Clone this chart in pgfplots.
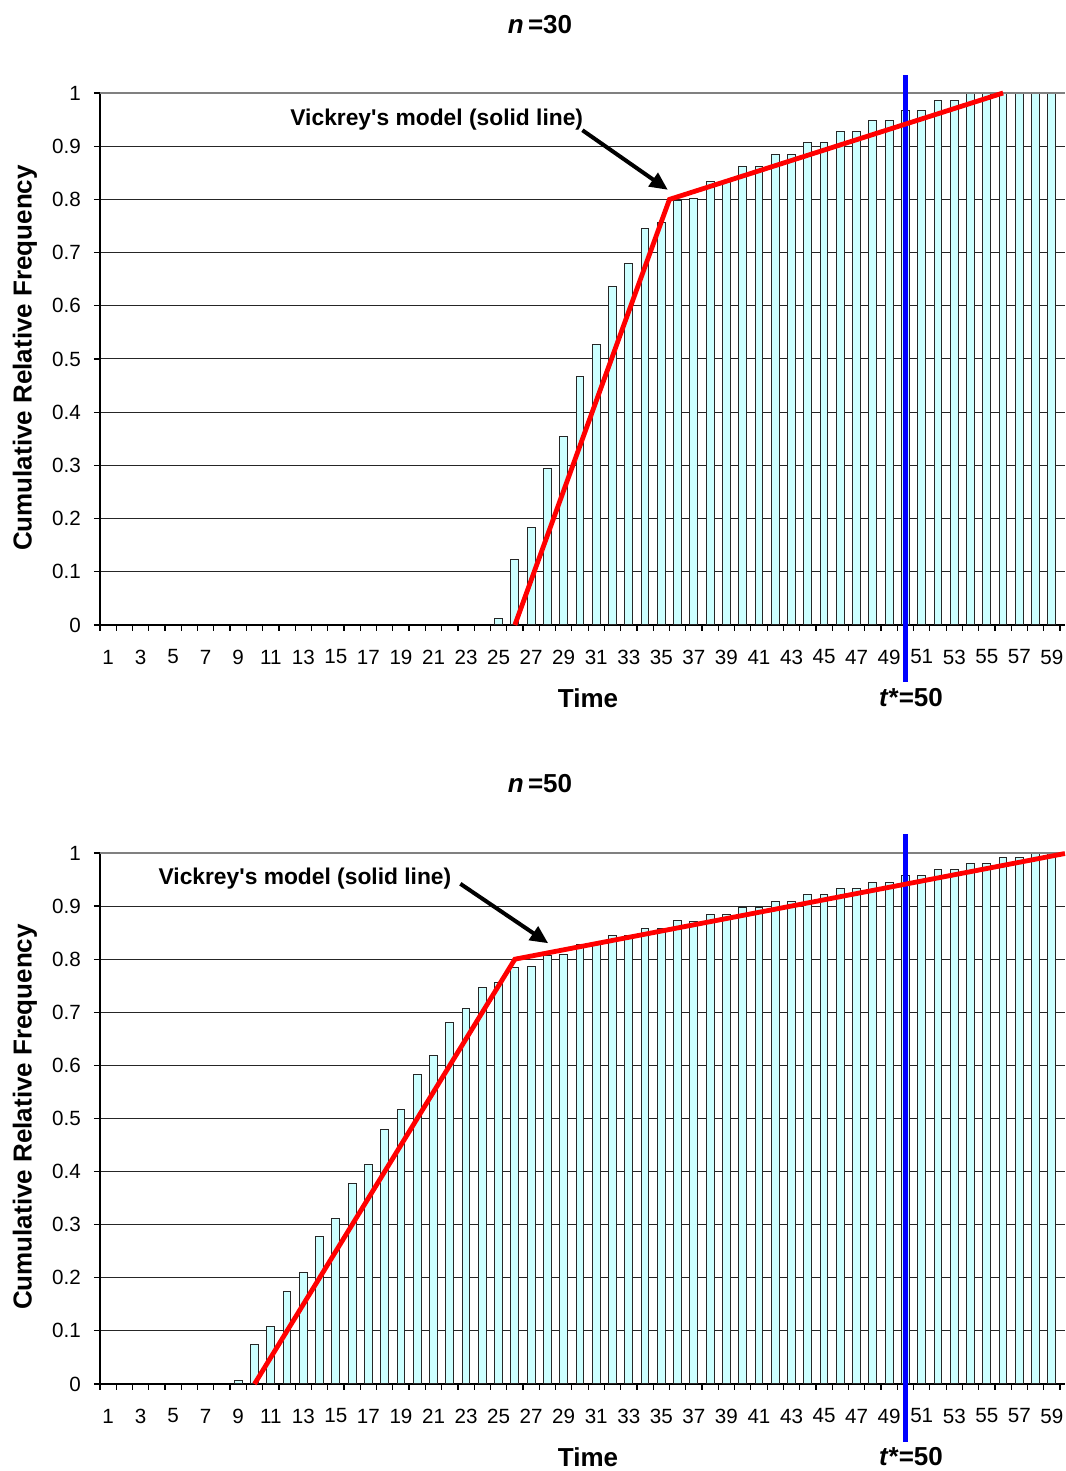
\documentclass[border=0pt]{standalone}
\usepackage{fontspec}
\setmainfont{Liberation Sans}
\usepackage{pgfplots}
\usepackage{pgfplotstable}
\pgfplotsset{compat=1.18}
\usetikzlibrary{arrows.meta}

\definecolor{barfill}{HTML}{CCFFFF}
\definecolor{modelred}{HTML}{FF0000}
\definecolor{tstarblue}{HTML}{0000FF}

% cumulative relative frequency of arrivals, n = 30
\pgfplotstableread{
t f
25 0.012
26 0.124
27 0.183
28 0.295
29 0.355
30 0.468
31 0.527
32 0.636
33 0.680
34 0.745
35 0.757
36 0.798
37 0.802
38 0.833
39 0.833
40 0.862
41 0.862
42 0.884
43 0.884
44 0.907
45 0.907
46 0.928
47 0.928
48 0.948
49 0.948
50 0.967
51 0.967
52 0.986
53 0.986
54 1.000
55 1.000
56 1.000
57 1.000
58 1.000
59 1.000
}\tblthirty

% cumulative relative frequency of arrivals, n = 50
\pgfplotstableread{
t f
9 0.007
10 0.074
11 0.108
12 0.175
13 0.210
14 0.277
15 0.312
16 0.378
17 0.414
18 0.480
19 0.516
20 0.583
21 0.618
22 0.681
23 0.707
24 0.747
25 0.757
26 0.784
27 0.787
28 0.807
29 0.809
30 0.828
31 0.828
32 0.845
33 0.845
34 0.858
35 0.858
36 0.872
37 0.871
38 0.885
39 0.885
40 0.897
41 0.897
42 0.908
43 0.908
44 0.921
45 0.921
46 0.933
47 0.933
48 0.945
49 0.945
50 0.957
51 0.957
52 0.969
53 0.969
54 0.981
55 0.981
56 0.992
57 0.992
58 1.000
59 1.000
}\tblfifty

\pgfplotsset{
  cumfreq/.style={
    scale only axis,
    width=482.5bp,
    xmin=0.5, xmax=59.8, ymin=0, ymax=1,
    clip=false,
    axis x line*=bottom, axis y line*=left,
    axis line style={black, line width=0.8bp, -},
    tick align=outside,
    xtick={1,3,...,59},
    minor xtick={0.5,1.5,...,59.5},
    major x tick style={draw=none},
    minor x tick style={black, line width=0.6bp},
    minor tick length=3bp,
    ytick={0,0.1,...,1},
    major y tick style={black, line width=0.6bp},
    major tick length=3bp,
    /pgf/number format/assume math mode=true,
    xticklabel={\pgfmathtruncatemacro\ticknum{\tick}\ticknum},
    yticklabel={\pgfmathprintnumber[fixed,precision=1]{\tick}},
    ticklabel style={font=\fontsize{10.3bp}{12bp}\selectfont},
    xticklabel style={anchor=center, yshift=-13bp},
    yticklabel style={anchor=east, xshift=-3bp},
    ymajorgrids,
    major y grid style={black!85, line width=0.5bp},
  },
  vickrey/.style={modelred, line width=2.4bp, line join=miter},
  tstar/.style={tstarblue, line width=2.2bp},
  barstyle/.style={ybar, bar width=3.9bp, fill=barfill, draw=black!85, line width=0.5bp},
}
\tikzset{
  note/.style={font=\fontsize{11.4bp}{13bp}\selectfont\bfseries},
  notearrow/.style={black, line width=2bp, -{Triangle[length=9bp,width=8bp]}},
}

\begin{document}
\begin{tikzpicture}
\path[use as bounding box] (0,0) rectangle (533bp,735.5bp);

% upper panel
\begin{axis}[cumfreq, height=266bp, at={(49.95bp,423bp)}, anchor=south west]
  \addplot[barstyle] table[x=t, y=f] {\tblthirty};
  \addplot[gray, line width=0.6bp] coordinates {(0.5,1) (59.8,1)};
  \addplot[tstar] coordinates {(50,-0.107) (50,1.034)};
  \addplot[vickrey] coordinates {(26,0) (35.5,0.8) (56,1)};
  \node[note] at (axis cs:21.2,0.950) {Vickrey\textquotesingle s model (solid line)};
  \draw[notearrow] (axis cs:30.15,0.930) -- (axis cs:35.4,0.818);
\end{axis}

% lower panel
\begin{axis}[cumfreq, height=265.5bp, at={(49.95bp,43.5bp)}, anchor=south west]
  \addplot[barstyle] table[x=t, y=f] {\tblfifty};
  \addplot[gray, line width=0.6bp] coordinates {(0.5,1) (59.8,1)};
  \addplot[tstar] coordinates {(50,-0.109) (50,1.036)};
  \addplot[vickrey] coordinates {(10,0) (26,0.8) (59.8,0.999)};
  \node[note] at (axis cs:13.1,0.952) {Vickrey\textquotesingle s model (solid line)};
  \draw[notearrow] (axis cs:22.65,0.942) -- (axis cs:28.05,0.830);
\end{axis}

% titles and axis labels
\begin{scope}[every node/.style={font=\fontsize{13bp}{15bp}\selectfont\bfseries}]
  \node at (270bp,723bp) {\textit{n}\,=30};
  \node at (270bp,343.5bp) {\textit{n}\,=50};
  \node[rotate=90] at (12.5bp,556.5bp) {Cumulative Relative Frequency};
  \node[rotate=90] at (12.5bp,177bp) {Cumulative Relative Frequency};
  \node at (294bp,386.5bp) {Time};
  \node at (294bp,7bp) {Time};
  \node at (455.5bp,386.5bp) {\textit{t}*=50};
  \node at (455.5bp,7bp) {\textit{t}*=50};
\end{scope}
\end{tikzpicture}
\end{document}
